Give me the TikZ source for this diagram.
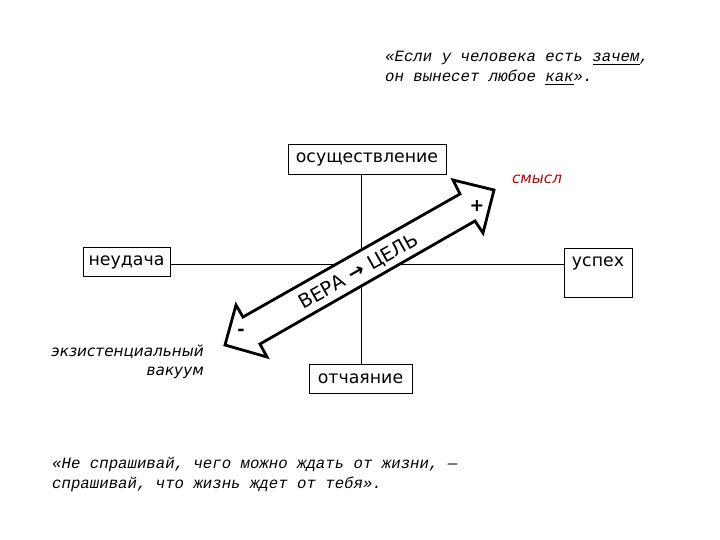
\documentclass[tikz,border=0pt]{standalone}
\usepackage{fontspec}
\setmainfont{DejaVu Sans}
\newfontfamily\quotefont{Liberation Mono}
\definecolor{smyslred}{RGB}{192,0,0}
\begin{document}
\begin{tikzpicture}[x=0.03cm,y=-0.03cm,
  box/.style={draw,line width=0.8pt,inner sep=0pt,font=\fontsize{14.8}{17}\selectfont},
  axis/.style={line width=0.8pt},
  bigarrow/.style={draw,fill=white,line width=2.4pt,line join=miter,miter limit=10},
  quote/.style={font=\quotefont\itshape\fontsize{13.4}{17}\selectfont,inner sep=0pt,anchor=base west},
  sign/.style={font=\bfseries\fontsize{15}{17}\selectfont,inner sep=0pt}]
\useasboundingbox (0,0) rectangle (720,540);

% quotes
\node[quote] (q1) at (385,62) {«Если у человека есть \underline{зачем},};
\node[quote] (q2) at (385,82) {он вынесет любое \underline{как}».};
\node[quote] (q3) at (52,468) {«Не спрашивай, чего можно ждать от жизни, —};
\node[quote] (q4) at (52,488) {спрашивай, что жизнь ждет от тебя».};

% boxes
\node[box,minimum width=4.74cm,minimum height=0.9cm] (osu) at (367,159) {осуществление};
\node[box,minimum width=2.61cm,minimum height=0.87cm] (neu) at (126.5,262) {неудача};
\node[box,minimum width=2.04cm,minimum height=1.47cm,
  label={[anchor=north,inner sep=0pt,yshift=-8pt,font=\fontsize{14.8}{17}\selectfont]north:успех}] (usp) at (598,272.5) {};
\node[box,minimum width=3.09cm,minimum height=0.87cm] (otc) at (360.5,379) {отчаяние};

% axes
\coordinate (vx) at (361,0);
\coordinate (hy) at (0,264);
\draw[axis] (osu.south -| vx) -- (otc.north -| vx);
\draw[axis] (neu.east |- hy) -- (usp.west |- hy);

% big double arrow
\draw[bigarrow] (243,317) -- (460,194) -- (453,180) -- (494,190) -- (483,233)
  -- (475,221) -- (260,344) -- (267,357) -- (225,345) -- (236,305) -- cycle;
\node[font=\fontsize{16.5}{18}\selectfont,rotate=29.5,inner sep=0pt] (vera) at (359,272) {ВЕРА \textbf{→} ЦЕЛЬ};
\node[sign] (plus) at (477,206) {+};
\node[sign] (minus) at (241,332) {-};

% labels
\node[font=\itshape\fontsize{13}{17}\selectfont,text=smyslred,inner sep=0pt] (smysl) at (537,179) {смысл};
\node[font=\itshape\fontsize{13}{16}\selectfont,align=right,anchor=east,inner sep=0pt] (vak) at (204,362) {экзистенциальный\\вакуум};
\end{tikzpicture}
\end{document}
